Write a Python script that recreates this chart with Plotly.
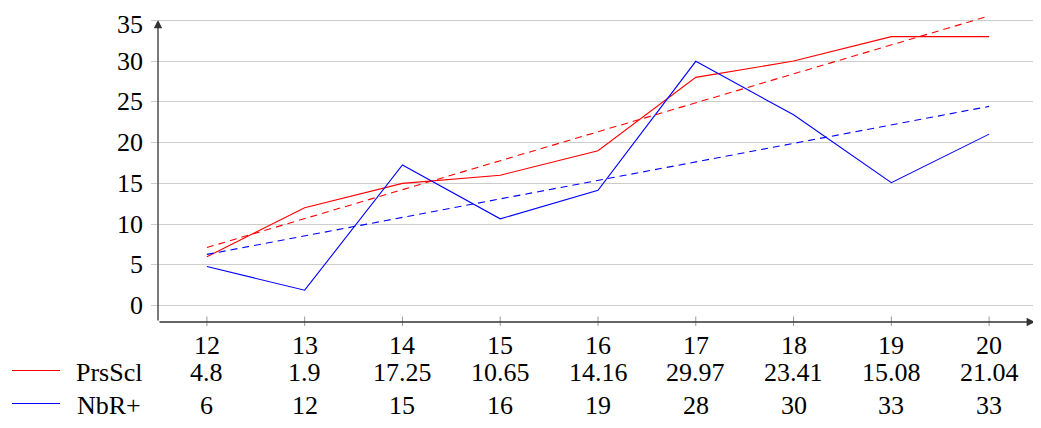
import plotly.graph_objects as go

# ---- data ----
x_vals = [12, 13, 14, 15, 16, 17, 18, 19, 20]
prsscl = [4.8, 1.9, 17.25, 10.65, 14.16, 29.97, 23.41, 15.08, 21.04]
nbr = [6, 12, 15, 16, 19, 28, 30, 33, 33]
prsscl_labels = ["4.8", "1.9", "17.25", "10.65", "14.16", "29.97", "23.41", "15.08", "21.04"]
nbr_labels = ["6", "12", "15", "16", "19", "28", "30", "33", "33"]
trend_x = [12, 20]
nbr_trend = [7.13, 35.53]
prsscl_trend = [6.29, 24.44]
y_ticks = [0, 5, 10, 15, 20, 25, 30, 35]
row_names = ["PrsScl", "NbR+"]

FONT = "Liberation Serif"
FS = 26
OFF = 8  # page body margin
W, H = 1041 - OFF, 428 - OFF
ML, MR, MT, MB = 158 - OFF, 3, 15 - OFF, 106
PW, PH = W - ML - MR, H - MT - MB
Y0, Y1 = -2, 35.65

def py(pix):  # window pixel row -> paper y
    return (H - MB - (pix - OFF)) / PH

def px(pix):  # window pixel col -> paper x
    return ((pix - OFF) - ML) / PW

fig = go.Figure()
fig.add_trace(go.Scatter(x=x_vals, y=nbr, mode="lines",
                         line=dict(color="#ff0000", width=1.1), showlegend=False))
fig.add_trace(go.Scatter(x=x_vals, y=prsscl, mode="lines",
                         line=dict(color="#0000ff", width=1.1), showlegend=False))
fig.add_trace(go.Scatter(x=trend_x, y=nbr_trend, mode="lines",
                         line=dict(color="#ff0000", width=1.1, dash="7px,5px"), showlegend=False))
fig.add_trace(go.Scatter(x=trend_x, y=prsscl_trend, mode="lines",
                         line=dict(color="#0000ff", width=1.1, dash="7px,5px"), showlegend=False))

annotations = []
shapes = []
# axis arrows
annotations.append(dict(x=11.5, y=35.05, ax=11.5, ay=-2, xref="x", yref="y", axref="x", ayref="y",
                        text="", showarrow=True, arrowhead=2, arrowsize=1.3, arrowwidth=1.3,
                        arrowcolor="#333333", standoff=0, startstandoff=0))
annotations.append(dict(x=20.47, y=-2, ax=11.5, ay=-2, xref="x", yref="y", axref="x", ayref="y",
                        text="", showarrow=True, arrowhead=2, arrowsize=1.3, arrowwidth=1.3,
                        arrowcolor="#333333", standoff=0, startstandoff=0))
# x tick marks crossing the axis
for xv in x_vals:
    shapes.append(dict(type="line", xref="x", yref="paper", x0=xv, x1=xv,
                       y0=py(326), y1=py(316.5), line=dict(color="#999999", width=1)))

font = dict(family=FONT, size=FS, color="#000000")

# y tick labels as annotations (kept inside the page at the top)
half_h = FS * 0.62
for v in y_ticks:
    center_pix = MT + (Y1 - v) * PH / (Y1 - Y0)
    shift = 0
    if center_pix - half_h < 0:
        shift = (center_pix - half_h)
    annotations.append(dict(x=px(145), y=v, xref="paper", yref="y", text=str(v),
                            showarrow=False, font=font, xanchor="right", yanchor="middle",
                            yshift=shift))

rows_y = [345, 372, 405]
for xv in x_vals:
    annotations.append(dict(x=xv, y=py(rows_y[0]), xref="x", yref="paper", text=str(xv),
                            showarrow=False, font=font, xanchor="center", yanchor="middle"))
for xv, t in zip(x_vals, prsscl_labels):
    annotations.append(dict(x=xv, y=py(rows_y[1]), xref="x", yref="paper", text=t,
                            showarrow=False, font=font, xanchor="center", yanchor="middle"))
for xv, t in zip(x_vals, nbr_labels):
    annotations.append(dict(x=xv, y=py(rows_y[2]), xref="x", yref="paper", text=t,
                            showarrow=False, font=font, xanchor="center", yanchor="middle"))
legend_colors = ["#ff0000", "#0000ff"]
for name, col, ry in zip(row_names, legend_colors, rows_y[1:]):
    annotations.append(dict(x=px(109), y=py(ry), xref="paper", yref="paper", text=name,
                            showarrow=False, font=font, xanchor="center", yanchor="middle"))
    shapes.append(dict(type="line", xref="paper", yref="paper", x0=px(12), x1=px(60),
                       y0=py(ry - 1.5), y1=py(ry - 1.5), line=dict(color=col, width=1)))

fig.update_layout(
    width=W, height=H,
    margin=dict(l=ML, r=MR, t=MT, b=MB, pad=0, autoexpand=False),
    paper_bgcolor="white", plot_bgcolor="white",
    xaxis=dict(range=[11.5, 20.5], showgrid=False, showline=False, zeroline=False,
               showticklabels=False, ticks="", automargin=False),
    yaxis=dict(range=[Y0, Y1], tickvals=y_ticks, showgrid=True, gridcolor="#cccccc",
               gridwidth=1, zeroline=False, showline=False, ticks="outside", ticklen=6,
               tickcolor="#cccccc", tickwidth=1, showticklabels=False, automargin=False),
    annotations=annotations, shapes=shapes,
    showlegend=False,
)
fig.write_html("out.html")
